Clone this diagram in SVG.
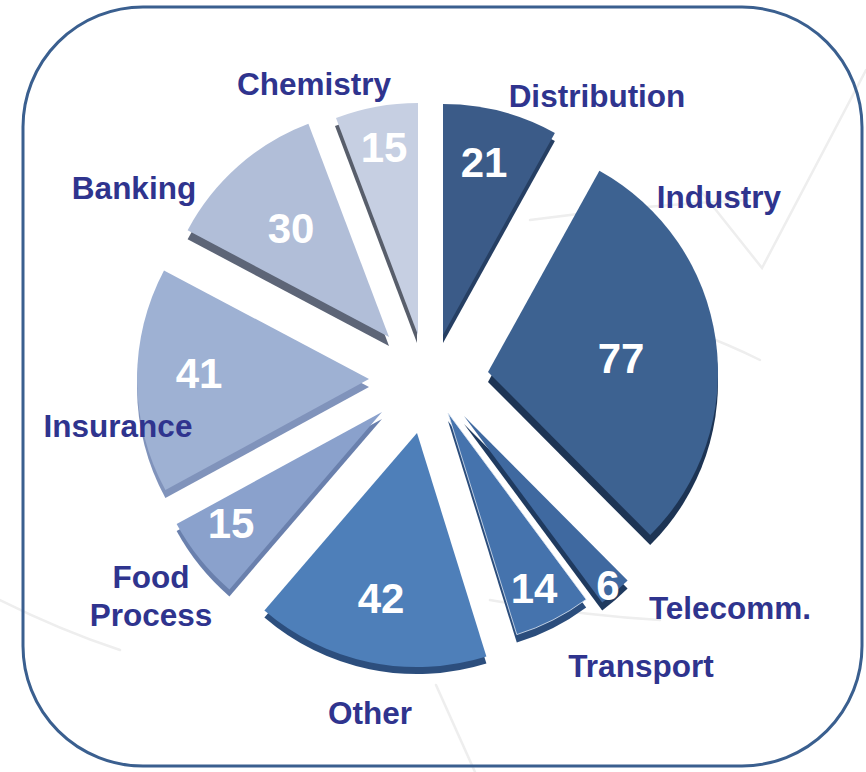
<svg xmlns="http://www.w3.org/2000/svg" xmlns:xlink="http://www.w3.org/1999/xlink" width="866" height="772" viewBox="0 0 866 772">
  <style>
    .lbl { font-family: "Liberation Sans", Arial, sans-serif; font-weight: bold; font-size: 31.5px; fill: #2f348e; text-anchor: middle; }
    .val { font-family: "Liberation Sans", Arial, sans-serif; font-weight: bold; font-size: 42px; fill: #ffffff; text-anchor: middle; }
    .bgline { fill: none; stroke: #eeeeee; stroke-width: 2.5; stroke-linecap: round; }
  </style>
  <defs>
    <path id="p-dist" d="M443,335 L443,104 A231,231 0 0,1 554.9,132.9 Z"/>
    <path id="p-ind" d="M488,372 L599.4,170.8 A230,230 0 0,1 650.2,535.1 Z"/>
    <path id="p-tel" d="M464,416 L627.6,580.5 A232,232 0 0,1 602.2,602.4 Z"/>
    <path id="p-tra" d="M448,413 L586.2,599.4 A232,232 0 0,1 516.8,634.6 Z"/>
    <path id="p-oth" d="M417,433 L486.4,656.5 A234,234 0 0,1 264.4,610.4 Z"/>
    <path id="p-food" d="M382,412 L229.4,589.4 A234,234 0 0,1 176.6,524.1 Z"/>
    <path id="p-ins" d="M369,379 L165.4,490.1 A232,232 0 0,1 164.0,270.4 Z"/>
    <path id="p-bank" d="M389,337 L187.6,230.2 A228,228 0 0,1 308.4,123.7 Z"/>
    <path id="p-chem" d="M418,335 L336,118 A232,232 0 0,1 418,103 Z"/>
  </defs>

  <rect x="0" y="0" width="866" height="772" fill="#ffffff"/>

  <g id="background">
    <path class="bgline" d="M530,220 Q640,205 750,200"/>
    <path class="bgline" d="M700,190 L762,268 L866,70"/>
    <path class="bgline" d="M600,300 Q700,330 760,360"/>
    <path class="bgline" d="M436,685 L475,772"/>
    <path class="bgline" d="M490,600 Q580,615 660,620"/>
    <path class="bgline" d="M0,600 Q60,630 120,650"/>
  </g>

  <g id="frame">
    <rect x="23" y="7" width="839" height="759" rx="120" ry="120" fill="none" stroke="#3a5f8f" stroke-width="3"/>
  </g>

  <g id="slice-distribution">
    <use xlink:href="#p-dist" href="#p-dist" fill="#263f63" transform="translate(0,8)"/>
    <use xlink:href="#p-dist" href="#p-dist" fill="#3b5b88"/>
    <text class="val" x="484" y="177">21</text>
    <text class="lbl" x="597" y="107">Distribution</text>
  </g>

  <g id="slice-industry">
    <use xlink:href="#p-ind" href="#p-ind" fill="#1d3454" transform="translate(0,10)"/>
    <use xlink:href="#p-ind" href="#p-ind" fill="#3d6291"/>
    <text class="val" x="621" y="373">77</text>
    <text class="lbl" x="719" y="208">Industry</text>
  </g>

  <g id="slice-telecomm">
    <use xlink:href="#p-tel" href="#p-tel" fill="#1f3a5f" transform="translate(0,8)"/>
    <use xlink:href="#p-tel" href="#p-tel" fill="#3f69a0"/>
    <text class="val" x="608" y="600">6</text>
    <text class="lbl" x="730" y="619">Telecomm.</text>
  </g>

  <g id="slice-transport">
    <use xlink:href="#p-tra" href="#p-tra" fill="#2b4d7c" transform="translate(0,8)"/>
    <use xlink:href="#p-tra" href="#p-tra" fill="#4573ad" stroke="#dfe8f4" stroke-width="0.8"/>
    <text class="val" x="534" y="603">14</text>
    <text class="lbl" x="641" y="677">Transport</text>
  </g>

  <g id="slice-other">
    <use xlink:href="#p-oth" href="#p-oth" fill="#2c4e7d" transform="translate(0,7)"/>
    <use xlink:href="#p-oth" href="#p-oth" fill="#4e7fb9"/>
    <text class="val" x="381" y="613">42</text>
    <text class="lbl" x="370" y="724">Other</text>
  </g>

  <g id="slice-food">
    <use xlink:href="#p-food" href="#p-food" fill="#6a80ad" transform="translate(0,7)"/>
    <use xlink:href="#p-food" href="#p-food" fill="#8aa1cc"/>
    <text class="val" x="231" y="538">15</text>
    <text class="lbl" x="151" y="588">Food</text>
    <text class="lbl" x="151" y="626">Process</text>
  </g>

  <g id="slice-insurance">
    <use xlink:href="#p-ins" href="#p-ins" fill="#8093bb" transform="translate(0,8)"/>
    <use xlink:href="#p-ins" href="#p-ins" fill="#9eb1d3"/>
    <text class="val" x="199" y="388">41</text>
    <text class="lbl" x="118" y="437">Insurance</text>
  </g>

  <g id="slice-banking">
    <use xlink:href="#p-bank" href="#p-bank" fill="#5d6577" transform="translate(0,9)"/>
    <use xlink:href="#p-bank" href="#p-bank" fill="#b1bed8"/>
    <text class="val" x="291" y="243">30</text>
    <text class="lbl" x="134" y="199">Banking</text>
  </g>

  <g id="slice-chemistry">
    <use xlink:href="#p-chem" href="#p-chem" fill="#585e6b" transform="translate(-1,8)"/>
    <use xlink:href="#p-chem" href="#p-chem" fill="#c6cfe2"/>
    <text class="val" x="384" y="162">15</text>
    <text class="lbl" x="314" y="95">Chemistry</text>
  </g>

  <g id="connectors"/>
</svg>
